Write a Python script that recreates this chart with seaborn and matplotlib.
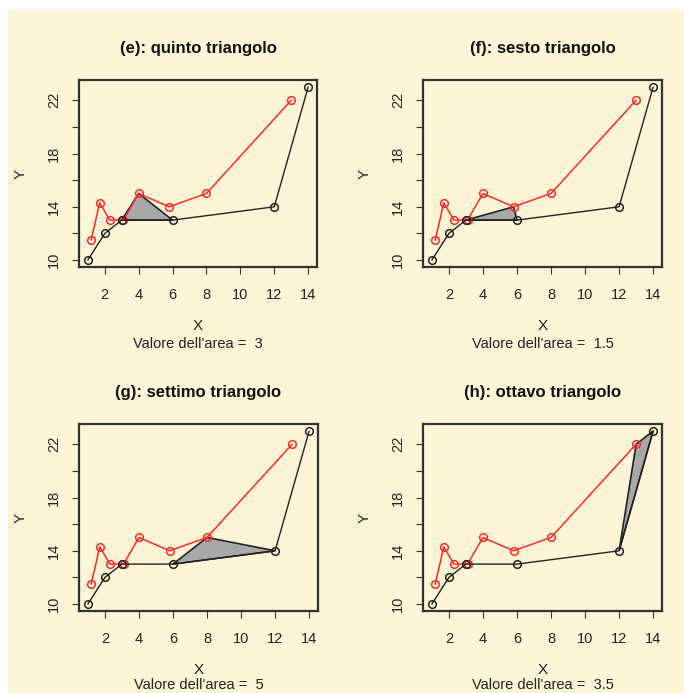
import matplotlib
matplotlib.use('Agg')
import matplotlib.pyplot as plt
import seaborn as sns
import pandas as pd

# black polyline
x_black = [1, 2, 3, 6, 12, 14]
y_black = [10, 12, 13, 13, 14, 23]
# red polyline
x_red = [1.2, 1.7, 2.3, 3.1, 4, 5.8, 8, 13]
y_red = [11.5, 14.3, 13, 13, 15, 14, 15, 22]

titles = ['(e): quinto triangolo', '(f): sesto triangolo',
          '(g): settimo triangolo', '(h): ottavo triangolo']
areas = ['3', '1.5', '5', '3.5']
# triangle vertices for each panel
tri_x = [[3, 4, 6], [3, 5.8, 6], [6, 8, 12], [12, 13, 14]]
tri_y = [[13, 15, 13], [13, 14, 13], [13, 15, 14], [14, 22, 23]]

bg = '#fef5d6'
sns.set_style('ticks')
plt.rcParams['font.family'] = ['Liberation Sans', 'DejaVu Sans']

fig = plt.figure(figsize=(6.84, 6.93), dpi=100, facecolor='white')
fig.patches.append(plt.Rectangle((8 / 684, 0), 1, 1 - 10 / 693, transform=fig.transFigure,
                                 facecolor=bg, edgecolor='none', zorder=-1))

W, H = 684, 693
boxes = [(79, 80, 317, 267), (423, 80, 662, 267), (79, 424, 318, 611), (423, 424, 662, 611)]
sub_y = [-0.41, -0.41, -0.397, -0.397]  # bottom row sits at the image edge

df_black = pd.DataFrame({'x': x_black, 'y': y_black})
df_red = pd.DataFrame({'x': x_red, 'y': y_red})

for i, (l, t, r, b) in enumerate(boxes):
    ax = fig.add_axes([l / W, 1 - b / H, (r - l) / W, (b - t) / H])
    ax.set_facecolor(bg)
    ax.fill(tri_x[i], tri_y[i], facecolor='#a8a8a8', edgecolor='#222222', linewidth=1.2, zorder=3)
    sns.lineplot(data=df_red, x='x', y='y', ax=ax, color='#ff2a2a', linewidth=1.1,
                 marker='o', markersize=5.5, markerfacecolor='none', markeredgecolor='#ff2a2a',
                 markeredgewidth=1.1, estimator=None, sort=False, zorder=4)
    sns.lineplot(data=df_black, x='x', y='y', ax=ax, color='#222222', linewidth=1.0,
                 marker='o', markersize=5.5, markerfacecolor='none', markeredgecolor='#222222',
                 markeredgewidth=1.1, estimator=None, sort=False, zorder=5)
    ax.set_xlim(0.48, 14.52)
    ax.set_ylim(9.48, 23.52)
    ax.set_xticks([2, 4, 6, 8, 10, 12, 14])
    ax.set_yticks([10, 12, 14, 16, 18, 20, 22])
    ax.set_yticklabels(['10', '', '14', '', '18', '', '22'], rotation=90, va='center')
    ax.tick_params(axis='both', labelsize=10.5, length=5, width=0.8, color='#333333',
                   labelcolor='#222222')
    ax.tick_params(axis='x', pad=10)
    ax.tick_params(axis='y', pad=8)
    for s in ax.spines.values():
        s.set_linewidth(1.6)
        s.set_color('#333333')
    ax.set_xlabel('X', fontsize=11, labelpad=12.5, color='#222222')
    ax.set_ylabel('Y', fontsize=11, labelpad=14, color='#222222')
    ax.set_title(titles[i], fontsize=12, fontweight='bold', pad=19.5, color='#111111')
    ax.text(0.5, sub_y[i], "Valore dell'area =  " + areas[i], transform=ax.transAxes,
            ha='center', va='center', fontsize=10.5, color='#222222')

fig.savefig('out.png', dpi=100, facecolor='white')
